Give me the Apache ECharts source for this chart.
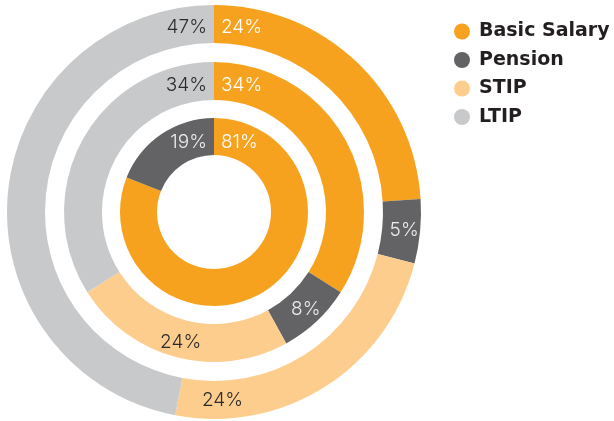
<!DOCTYPE html>
<html>
<head>
<meta charset="utf-8">
<script src="https://cdn.jsdelivr.net/npm/echarts@6/dist/echarts.min.js"></script>
<style>
  html, body { margin: 0; padding: 0; background: #ffffff; }
  #chart { width: 614px; height: 421px; }
</style>
</head>
<body>
<div id="chart"></div>
<script>
// Pay components, shown as shares of total remuneration
const components = ['Basic Salary', 'Pension', 'STIP', 'LTIP'];
const outerShares = [24, 5, 24, 47];
const middleShares = [34, 8, 24, 34];
const innerComponents = ['Basic Salary', 'Pension'];
const innerShares = [81, 19];

const colors = {
  'Basic Salary': '#F6A21E',
  'Pension': '#636365',
  'STIP': '#FDCD8D',
  'LTIP': '#C8C9CB'
};
const labelColors = {
  'Basic Salary': '#ffffff',
  'Pension': '#ececec',
  'STIP': '#2b2b2b',
  'LTIP': '#2b2b2b'
};

const center = [214, 212];
const rings = [
  { id: 'outer', names: components, values: outerShares, radius: [169, 207] },
  { id: 'middle', names: components, values: middleShares, radius: [112, 150] },
  { id: 'inner', names: innerComponents, values: innerShares, radius: [57, 94] }
];
// slices whose label sits further along the slice than its middle
const labelAlong = { outer: { 'STIP': 0.845 } };

const labelFont = { fontFamily: 'Inter, Lato, sans-serif', fontWeight: 300, fontSize: 19 };

function sliceAngles(values) {
  const total = values.reduce((a, b) => a + b, 0);
  let acc = 0;
  return values.map(v => {
    const start = acc / total * 360;
    acc += v;
    return [start, acc / total * 360];
  });
}

const series = rings.map((ring) => {
  const angles = sliceAngles(ring.values);
  const rMid = (ring.radius[0] + ring.radius[1]) / 2;
  const last = ring.values.length - 1;
  return {
    type: 'pie',
    name: ring.id,
    center: center,
    radius: ring.radius,
    startAngle: 90,
    clockwise: true,
    silent: true,
    avoidLabelOverlap: false,
    data: ring.names.map((n, i) => ({
      name: n,
      value: ring.values[i],
      itemStyle: { color: colors[n] },
      label: { color: labelColors[n] }
    })),
    label: Object.assign({
      show: true,
      position: 'inside',
      formatter: '{c}%'
    }, labelFont),
    labelLine: { show: false },
    labelLayout: function (p) {
      const i = p.dataIndex;
      const halfW = p.labelRect.width / 2;
      const gap = 7;
      if (i === 0 || i === last) {
        // slices meeting at twelve o'clock: labels hug the dividing line
        const off = gap + halfW;
        const y = center[1] - Math.sqrt(rMid * rMid - off * off) + 1;
        return {
          x: i === 0 ? center[0] + gap : center[0] - gap,
          y: y,
          align: i === 0 ? 'left' : 'right',
          verticalAlign: 'middle'
        };
      }
      const along = (labelAlong[ring.id] || {})[ring.names[i]];
      if (along !== undefined) {
        const a = angles[i];
        const theta = (a[0] + (a[1] - a[0]) * along) * Math.PI / 180;
        return {
          x: center[0] + rMid * Math.sin(theta),
          y: center[1] - rMid * Math.cos(theta),
          align: 'center',
          verticalAlign: 'middle'
        };
      }
      return {};
    }
  };
});

const chart = echarts.init(document.getElementById('chart'), null, { renderer: 'canvas' });
chart.setOption({
  backgroundColor: '#ffffff',
  animation: false,
  color: components.map(n => colors[n]),
  legend: {
    orient: 'vertical',
    left: 454,
    top: 22,
    padding: 0,
    data: components,
    icon: 'circle',
    itemWidth: 24,
    itemHeight: 16,
    itemGap: 9.5,
    selectedMode: false,
    textStyle: {
      fontFamily: '"DejaVu Sans", sans-serif',
      fontWeight: 'bold',
      fontSize: 19,
      lineHeight: 19,
      color: '#231f20'
    }
  },
  series: series
});
</script>
</body>
</html>
